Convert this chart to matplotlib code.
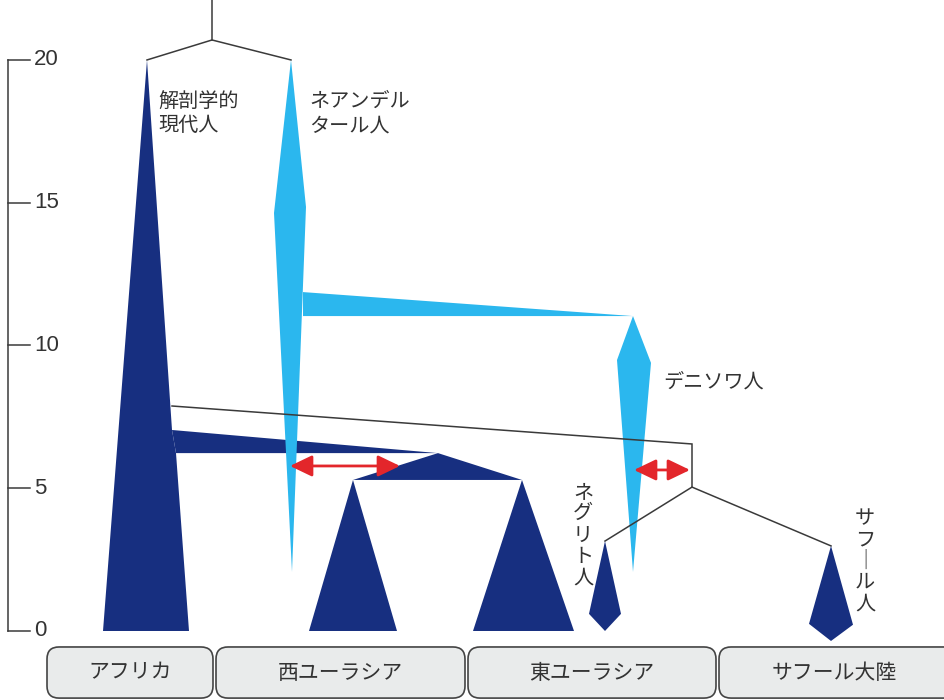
import matplotlib
matplotlib.use("Agg")
import matplotlib.pyplot as plt
from matplotlib.patches import Polygon, FancyBboxPatch

plt.rcParams['font.family'] = ['Noto Sans CJK JP', 'DejaVu Sans']

# ---- data (x: horizontal layout units, y: time in 10,000 years) ----
y_ticks = [0, 5, 10, 15, 20]

africa_x = [147, 172, 176, 189, 103]
africa_y = [20.0, 7.04, 6.23, 0.0, 0.0]
out_of_africa_x = [172, 438, 176]
out_of_africa_y = [7.04, 6.23, 6.23]
eurasia_node_x = [353, 438, 522]
eurasia_node_y = [5.29, 6.23, 5.29]
west_eurasia_x = [353, 397, 309]
west_eurasia_y = [5.29, 0.0, 0.0]
east_eurasia_x = [522, 574, 473]
east_eurasia_y = [5.29, 0.0, 0.0]
negrito_x = [605, 621, 605, 589]
negrito_y = [3.15, 0.60, 0.0, 0.60]
sahul_x = [831, 853, 831, 809]
sahul_y = [2.98, 0.22, -0.35, 0.25]

neanderthal_x = [291, 306, 292, 274]
neanderthal_y = [20.0, 14.85, 2.07, 14.64]
nea_den_x = [303, 633, 303]
nea_den_y = [11.87, 11.03, 11.03]
denisovan_x = [633, 651, 633, 617]
denisovan_y = [11.03, 9.39, 2.07, 9.49]

root_x = [212, 212]
root_y = [22.1, 20.7]
split_x = [147, 212, 291]
split_y = [20.0, 20.7, 20.0]
migration_x = [172, 692, 692]
migration_y = [7.88, 6.55, 5.04]
sahul_split_x = [605, 692, 831]
sahul_split_y = [3.15, 5.04, 2.98]

arrows = [((290, 5.78), (400, 5.78)), ((634, 5.64), (690, 5.64))]

regions = ['アフリカ', '西ユーラシア', '東ユーラシア', 'サフール大陸']
region_left = [47, 216, 468, 719]
region_right = [213, 465, 716, 965]

horizontal_labels = [
    ('解剖学的\n現代人', 158, 18.12),
    ('ネアンデル\nタール人', 309, 18.12),
    ('デニソワ人', 663, 8.72),
]
vertical_labels = [
    ('ネグリト人', 583, 3.36),
    ('サフ│ル人', 865, 2.45),
]

# ---- styles ----
NAVY = '#172f80'
SKY = '#2bb7ee'
RED = '#e3262b'
INK = '#3a3a3a'

fig = plt.figure(figsize=(9.45, 7.0), dpi=100)
fig.patch.set_facecolor('white')
ax = fig.add_axes([0, 0, 1, 1])
ax.set_xlim(0, 945)
ax.set_ylim(-2.417, 22.10)
ax.axis('off')

def poly(xs, ys, color):
    ax.add_patch(Polygon(list(zip(xs, ys)), closed=True, facecolor=color,
                         edgecolor='none', zorder=2))

for xs, ys in [(africa_x, africa_y), (out_of_africa_x, out_of_africa_y),
               (eurasia_node_x, eurasia_node_y), (west_eurasia_x, west_eurasia_y),
               (east_eurasia_x, east_eurasia_y), (negrito_x, negrito_y),
               (sahul_x, sahul_y)]:
    poly(xs, ys, NAVY)
for xs, ys in [(neanderthal_x, neanderthal_y), (nea_den_x, nea_den_y),
               (denisovan_x, denisovan_y)]:
    poly(xs, ys, SKY)

for xs, ys in [(root_x, root_y), (split_x, split_y), (migration_x, migration_y),
               (sahul_split_x, sahul_split_y)]:
    ax.plot(xs, ys, color=INK, lw=1.1, zorder=3, solid_joinstyle='miter')

for (a, b) in arrows:
    ax.annotate('', xy=b, xytext=a,
                arrowprops=dict(arrowstyle='<|-|>,head_length=0.75,head_width=0.36',
                                color=RED, lw=2.0, shrinkA=0, shrinkB=0,
                                mutation_scale=18), zorder=4)

# y axis
ax.plot([8, 8], [y_ticks[0], y_ticks[-1]], color=INK, lw=1.1)
for t in y_ticks:
    ax.plot([8, 30], [t, t], color=INK, lw=1.1)
    ax.text(34, t, str(t), ha='left', va='center', fontsize=16,
            family=['Liberation Sans', 'DejaVu Sans'], color='#333333')

for txt, x, y in horizontal_labels:
    ax.text(x, y, txt, ha='left', va='center', fontsize=14.5, color='#333333',
            linespacing=1.2, zorder=5)
for txt, x, y in vertical_labels:
    ax.text(x, y, '\n'.join(txt), ha='center', va='center', fontsize=14.5,
            color='#333333', linespacing=1.02, zorder=5)

# region boxes
ppu = 571 / 20.0
box_bottom = -2.35
box_top = -0.56
for name, l, r in zip(regions, region_left, region_right):
    ax.add_patch(FancyBboxPatch((l, box_bottom), r - l, box_top - box_bottom,
                                boxstyle='round,pad=0,rounding_size=12',
                                mutation_aspect=1 / ppu,
                                facecolor='#e9ebeb', edgecolor='#444444',
                                lw=1.2, zorder=2, clip_on=False))
    ax.text((l + min(r, 950)) / 2, (box_top + box_bottom) / 2, name,
            ha='center', va='center', fontsize=15, color='#333333', zorder=3)

fig.savefig('out.png', dpi=100, facecolor='white')
